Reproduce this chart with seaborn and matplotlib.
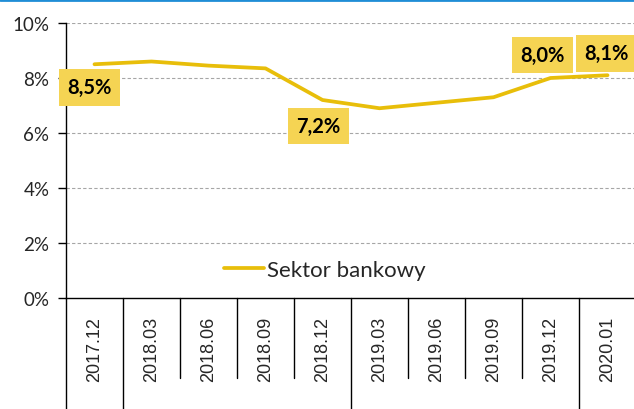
import matplotlib
matplotlib.use("Agg")
import matplotlib.pyplot as plt
import seaborn as sns
import pandas as pd
from matplotlib.lines import Line2D
from matplotlib.ticker import FuncFormatter

periods = ["2017.12", "2018.03", "2018.06", "2018.09", "2018.12",
           "2019.03", "2019.06", "2019.09", "2019.12", "2020.01"]
sektor_bankowy = [8.5, 8.6, 8.45, 8.35, 7.2, 6.9, 7.1, 7.3, 8.0, 8.1]
series_name = "Sektor bankowy"
yticks = [0, 2, 4, 6, 8, 10]
# labelled points: index -> text
labels = {0: "8,5%", 4: "7,2%", 8: "8,0%", 9: "8,1%"}
year_breaks = [-0.5, 0.5, 4.5, 8.5]

df = pd.DataFrame({"okres": periods, "wartosc": sektor_bankowy, "seria": series_name})

sns.set_style("white")
plt.rcParams["font.family"] = ["Lato", "DejaVu Sans"]

W, H = 634, 410
fig = plt.figure(figsize=(W / 100, H / 100), dpi=100)
ax = fig.add_axes([66 / W, 1 - 299 / H, 570 / W, 275 / H])

line_color = "#E8BE0A"
box_color = "#F5D453"

sns.lineplot(data=df, x="okres", y="wartosc", hue="seria", palette=[line_color],
             linewidth=2.7, sort=False, ax=ax, legend=True)

ax.set_xlim(-0.5, len(periods) - 0.5)
ax.set_ylim(0, 10)
ax.set_yticks(yticks)
ax.yaxis.set_major_formatter(FuncFormatter(lambda v, p: f"{v:.0f}%"))
ax.set_xlabel("")
ax.set_ylabel("")

for y in yticks[1:]:
    ax.axhline(y, color="#A6A6A6", lw=0.8, ls=(0, (3, 2)), zorder=0)

for s in ["top", "right"]:
    ax.spines[s].set_visible(False)
ax.spines["left"].set_color("black")
ax.spines["left"].set_linewidth(1.0)
ax.spines["bottom"].set_color("black")
ax.spines["bottom"].set_linewidth(1.0)

ax.tick_params(axis="y", direction="out", length=6, width=1, color="black",
               labelsize=13.5, pad=6, left=True)
ax.tick_params(axis="x", length=0, pad=13, labelsize=13)
for t in ax.get_xticklabels():
    t.set_rotation(90)
    t.set_family(["Liberation Sans", "DejaVu Sans"])
    t.set_va("top")
    t.set_ha("center")

# category separators below the axis
trans = ax.get_xaxis_transform()
for b in [i - 0.5 for i in range(len(periods) + 1)]:
    bottom = -0.42 if b in year_breaks else -0.29
    ax.plot([b, b], [0, bottom], transform=trans, color="black", lw=1.0, clip_on=False)

offsets = {0: (-5, -23), 4: (-4, -26), 8: (-8, 23), 9: (-1, 22)}
for i, txt in labels.items():
    dx, dy = offsets[i]
    ax.annotate(txt, (i, sektor_bankowy[i]), xytext=(dx * 0.72, dy * 0.72),
                textcoords="offset points", ha="center", va="center",
                fontsize=14.5, fontweight="bold", color="black",
                bbox=dict(boxstyle="square,pad=0.42", fc=box_color, ec="none"))

leg = ax.legend(loc="center", bbox_to_anchor=(325 / W, 1 - 271 / H),
                bbox_transform=fig.transFigure, frameon=False, fontsize=16,
                handlelength=1.8, handletextpad=0.12, borderpad=0, borderaxespad=0)
for t in leg.get_texts():
    t.set_text(series_name)

fig.add_artist(Line2D([0, 1], [1 - 1 / H, 1 - 1 / H], transform=fig.transFigure,
                      color="#1F8DD6", lw=2))

fig.savefig("out.png", dpi=100)
